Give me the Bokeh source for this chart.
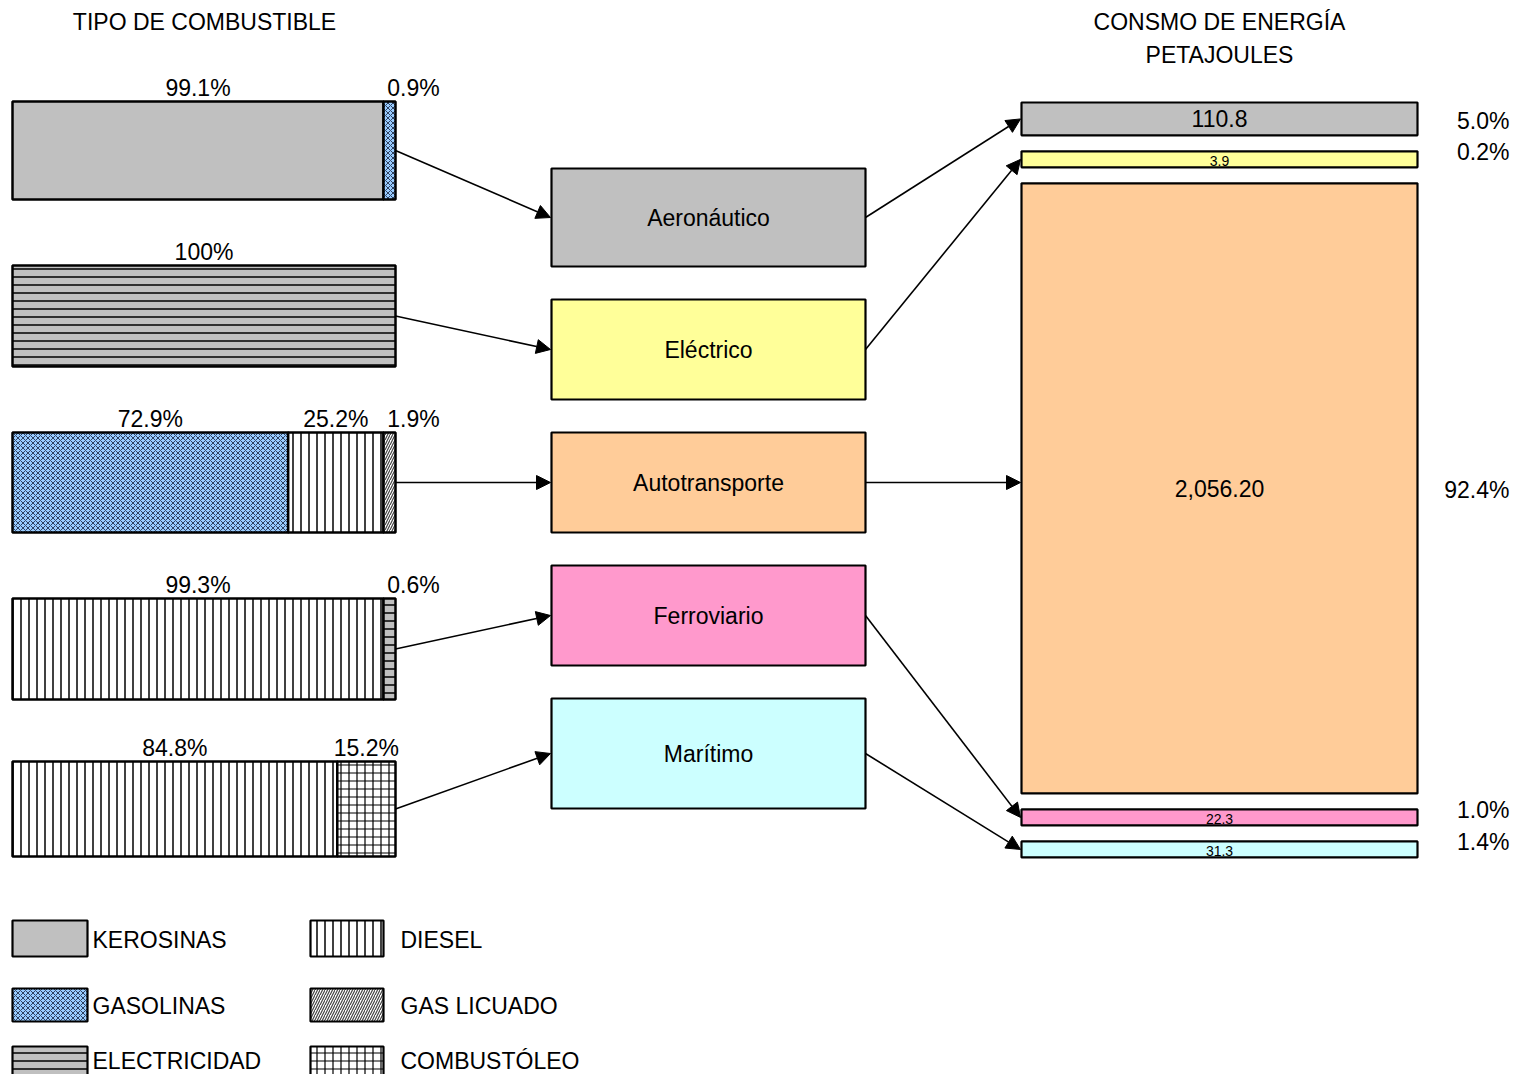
from bokeh.plotting import figure
from bokeh.models import Range1d, Arrow, NormalHead
from bokeh.core.properties import value
from bokeh.embed import file_html
from bokeh.resources import INLINE

# ---------------- data ----------------
sectors = ["Aeronáutico", "Eléctrico", "Autotransporte", "Ferroviario", "Marítimo"]
sector_colors = ["#C0C0C0", "#FFFF99", "#FFCC99", "#FF99CC", "#CCFFFF"]

fuel_types = ["KEROSINAS", "GASOLINAS", "ELECTRICIDAD", "DIESEL", "GAS LICUADO", "COMBUSTÓLEO"]

aer_fuels = ["KEROSINAS", "GASOLINAS"]
aer_share = [99.1, 0.9]
ele_fuels = ["ELECTRICIDAD"]
ele_share = [100.0]
aut_fuels = ["GASOLINAS", "DIESEL", "GAS LICUADO"]
aut_share = [72.9, 25.2, 1.9]
fer_fuels = ["DIESEL", "ELECTRICIDAD"]
fer_share = [99.3, 0.6]
mar_fuels = ["DIESEL", "COMBUSTÓLEO"]
mar_share = [84.8, 15.2]

energy_pj = [110.8, 3.9, 2056.2, 22.3, 31.3]
energy_labels = ["110.8", "3.9", "2,056.20", "22.3", "31.3"]

title_left = "TIPO DE COMBUSTIBLE"
title_right = ["CONSMO DE ENERGÍA", "PETAJOULES"]

# ---------------- styles / layout ----------------
FONT = value("Liberation Sans")
FS = "23px"
styles = {
    "KEROSINAS": dict(fill_color="#C0C0C0"),
    "GASOLINAS": dict(fill_color="#99CCFF", hatch_pattern="diagonal_cross",
                      hatch_color="#22304d", hatch_scale=5, hatch_weight=0.9),
    "ELECTRICIDAD": dict(fill_color="#C0C0C0", hatch_pattern="horizontal_line",
                         hatch_color="black", hatch_scale=8, hatch_weight=1.5),
    "DIESEL": dict(fill_color="white", hatch_pattern="vertical_line",
                   hatch_color="black", hatch_scale=8, hatch_weight=1.5),
    "GAS LICUADO": dict(fill_color="white", hatch_pattern="right_diagonal_line",
                        hatch_color="#444444", hatch_scale=5, hatch_weight=1.2),
    "COMBUSTÓLEO": dict(fill_color="white", hatch_pattern="cross",
                        hatch_color="black", hatch_scale=8, hatch_weight=1.2),
}

rows = [(aer_fuels, aer_share), (ele_fuels, ele_share), (aut_fuels, aut_share),
        (fer_fuels, fer_share), (mar_fuels, mar_share)]
bar_rows = [(101, 199), (265, 366), (432, 532), (598, 699), (761, 856)]
box_rows = [(168, 266), (299, 399), (432, 532), (565, 665), (698, 808)]
LX0, LX1 = 12, 395
BX0, BX1 = 551, 865
RX0, RX1 = 1021, 1417
MINW = 12

p = figure(width=1513, height=1074, x_range=Range1d(0, 1513), y_range=Range1d(1074, 0),
           output_backend="svg", toolbar_location=None, min_border=0)
p.axis.visible = False
p.grid.visible = False
p.outline_line_color = None


def txt(x, y, s, size=FS, align="center", baseline="middle"):
    p.text(x=[x], y=[y], text=[s], text_font=FONT, text_font_size=value(size),
           text_align=align, text_baseline=baseline, text_color="black")


# titles
txt(204, 21, title_left)
txt(1219, 21, title_right[0])
txt(1219, 54, title_right[1])

# left stacked bars
W = LX1 - LX0
for (fuels, shares), (t, b) in zip(rows, bar_rows):
    total = sum(shares)
    small = [s / total * W < MINW for s in shares]
    rest = W - MINW * sum(small)
    big_total = sum(s for s, sm in zip(shares, small) if not sm)
    x = LX0
    for f, s, sm in zip(fuels, shares, small):
        w = MINW if sm else s / big_total * rest
        p.quad(left=[x], right=[x + w], top=[t], bottom=[b], line_color="black",
               line_width=2.5, **styles[f])
        lab = "100%" if s == 100 else f"{s:.1f}%"
        txt(x + w / 2 + (24 if sm else 0), t - 14, lab)
        x += w

# middle boxes
for name, col, (t, b) in zip(sectors, sector_colors, box_rows):
    p.quad(left=[BX0], right=[BX1], top=[t], bottom=[b], fill_color=col,
           line_color="black", line_width=2.2)
    txt((BX0 + BX1) / 2, (t + b) / 2, name)

# right bars
scale = 0.2967
gap = 16
minh = 16
total_e = sum(energy_pj)
PX = 1509
y = 102
right_mid = []
for v, lab, col in zip(energy_pj, energy_labels, sector_colors):
    h = max(v * scale, minh)
    p.quad(left=[RX0], right=[RX1], top=[y], bottom=[y + h], fill_color=col,
           line_color="black", line_width=2.2)
    if h > minh:
        txt((RX0 + RX1) / 2, y + h / 2, lab)
        txt(PX, y + h / 2 + 2, f"{v / total_e * 100:.1f}%", align="right")
    else:
        txt((RX0 + RX1) / 2, y + h / 2 + 2, lab, size="14px")
        txt(PX, y + 1, f"{v / total_e * 100:.1f}%", align="right")
    right_mid.append(y + h / 2)
    y += h + gap


def arrow(x0, y0, x1, y1):
    p.add_layout(Arrow(end=NormalHead(size=14, fill_color="black", line_color="black"),
                       x_start=x0, y_start=y0, x_end=x1, y_end=y1,
                       line_color="black", line_width=1.6))


for (bt, bb), (ct, cb) in zip(bar_rows, box_rows):
    arrow(LX1, (bt + bb) / 2, BX0 - 1, (ct + cb) / 2)

for i, (ct, cb) in enumerate(box_rows):
    ym = (ct + cb) / 2
    target = ym if sectors[i] == "Autotransporte" else right_mid[i]
    arrow(BX1, ym, RX0 - 1, target)

# legend
leg_pos = [(12, 87, 920, 956), (12, 87, 988, 1021), (12, 87, 1046, 1080),
           (310, 383, 920, 956), (310, 383, 988, 1021), (310, 383, 1046, 1080)]
for f, (l, r, t, b) in zip(fuel_types, leg_pos):
    p.quad(left=[l], right=[r], top=[t], bottom=[b], line_color="black",
           line_width=2.2, **styles[f])
    tx = r + 5 if l < 100 else r + 17
    ty = min((t + b) / 2 + 1, 1060)
    txt(tx, ty, f, align="left")

open("out.html", "w").write(file_html(p, INLINE))
